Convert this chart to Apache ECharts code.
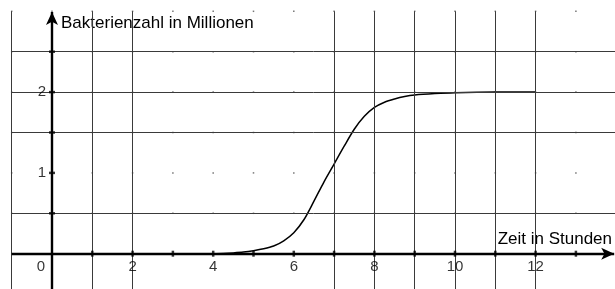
<!DOCTYPE html>
<html><head><meta charset="utf-8">
<script src="https://cdn.jsdelivr.net/npm/echarts@6/dist/echarts.min.js"></script>
<style>html,body{margin:0;padding:0;background:#fff}#c{width:615px;height:289px}</style>
</head><body><div id="c"></div>
<script>
// curve (hours, millions)
const curveX = [4, 4.25, 4.5, 4.75, 5, 5.25, 5.5, 5.75, 6, 6.25, 6.5, 6.75, 7, 7.25, 7.5, 7.75, 8, 8.25, 8.5, 8.75, 9, 9.5, 10, 11, 12];
const curveY = [0.00, 0.003, 0.01, 0.02, 0.037, 0.06, 0.095, 0.16, 0.26, 0.42, 0.65, 0.89, 1.11, 1.33, 1.54, 1.70, 1.81, 1.875, 1.915, 1.945, 1.964, 1.982, 1.993, 2.0, 2.0];
// grid
const gridXs = [-1, 1, 2, 7, 8, 9, 10, 11, 12];
const gridYs = [0.5, 1.5, 2, 2.5];
const dotXs = [-1, 0, 1, 2, 3, 4, 5, 6, 7, 8, 9, 10, 11, 12, 13];
const dotYs = [0.5, 1, 1.5, 2, 2.5, 3];
const xTickVals = [1, 2, 3, 4, 5, 6, 7, 8, 9, 10, 11, 12, 13];
const yTickVals = [0.5, 1, 1.5, 2, 2.5];
const xTickLabels = [0, 2, 4, 6, 8, 10, 12];
const yTickLabels = [1, 2];
const xTitle = 'Zeit in Stunden';
const yTitle = 'Bakterienzahl in Millionen';

const xMin = -1.29, xMax = 13.97, yMin = -0.437, yMax = 3.14;
const gridTop = 3, gridLeft = -1, axisXEnd = 13.95, axisYEnd = 2.99;

const chart = echarts.init(document.getElementById('c'), null, {renderer: 'canvas'});
const font = 'Liberation Sans, Arial, sans-serif';

const dots = [];
dotXs.forEach(x => dotYs.forEach(y => dots.push([x, y])));

const gridLines = [];
gridXs.forEach(x => gridLines.push([{coord: [x, gridTop]}, {coord: [x, yMin]}]));
gridYs.forEach(y => gridLines.push([{coord: [gridLeft, y]}, {coord: [xMax, y]}]));

chart.setOption({
  animation: false,
  backgroundColor: '#ffffff',
  grid: {left: 0, right: 0, top: 0, bottom: 0},
  xAxis: {type: 'value', min: xMin, max: xMax, show: false},
  yAxis: {type: 'value', min: yMin, max: yMax, show: false},
  graphic: [
    {type: 'text', left: 61, top: 15, style: {text: yTitle, font: '17px ' + font, fill: '#000'}},
    {type: 'text', right: 3, top: 231, style: {text: xTitle, font: '17px ' + font, fill: '#000'}}
  ],
  series: [
    {
      type: 'line', data: [], silent: true,
      markLine: {
        silent: true, symbol: ['none', 'none'], label: {show: false},
        lineStyle: {color: '#3a3a3a', width: 1, type: 'solid', opacity: 1},
        emphasis: {disabled: true},
        data: gridLines
      }
    },
    {
      type: 'scatter', silent: true, symbol: 'rect', symbolSize: 1.5,
      itemStyle: {color: '#555'}, data: dots, z: 2
    },
    {
      type: 'line', data: [], silent: true, z: 5,
      markLine: {
        silent: true, symbol: ['none', 'arrow'], symbolSize: [9, 13], label: {show: false},
        lineStyle: {color: '#000', width: 2.4, type: 'solid', opacity: 1},
        emphasis: {disabled: true},
        data: [
          [{coord: [gridLeft, 0]}, {coord: [axisXEnd, 0]}],
          [{coord: [0, yMin]}, {coord: [0, axisYEnd]}]
        ]
      }
    },
    {
      type: 'scatter', silent: true, symbol: 'rect', symbolSize: [2.5, 6], z: 6,
      itemStyle: {color: '#000'}, data: xTickVals.map(v => [v, 0])
    },
    {
      type: 'scatter', silent: true, symbol: 'rect', symbolSize: [6, 2.5], z: 6,
      itemStyle: {color: '#000'}, data: yTickVals.map(v => [0, v])
    },
    {
      type: 'line', silent: true, smooth: 0.3, showSymbol: false, z: 4,
      lineStyle: {color: '#000', width: 1.5},
      data: curveX.map((x, i) => [x, curveY[i]])
    },
    {
      type: 'scatter', silent: true, symbolSize: 0, z: 7,
      data: xTickLabels.map(v => ({value: [v, 0], label: {offset: v === 0 ? [-11, 0] : [0, 0]}})),
      label: {show: true, position: 'bottom', distance: 6, formatter: p => String(p.value[0]),
              fontFamily: font, fontSize: 15, color: '#000'}
    },
    {
      type: 'scatter', silent: true, symbolSize: 0, z: 7,
      data: yTickLabels.map(v => [0, v]),
      label: {show: true, position: 'left', distance: 6, formatter: p => String(p.value[1]),
              fontFamily: font, fontSize: 15, color: '#000'}
    }
  ]
});
</script></body></html>
